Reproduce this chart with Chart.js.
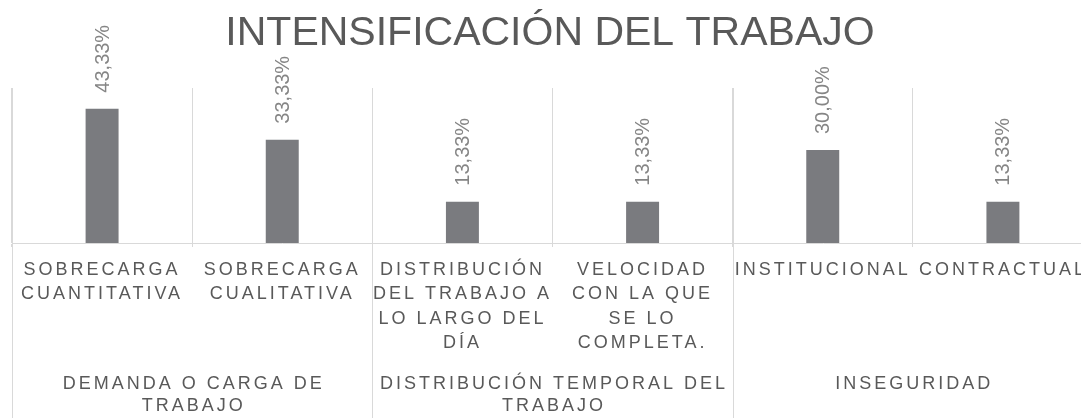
<!DOCTYPE html>
<html>
<head>
<meta charset="utf-8">
<script src="https://cdn.jsdelivr.net/npm/chart.js@4/dist/chart.umd.min.js"></script>
<style>
  html, body { margin: 0; padding: 0; background: #fff; overflow: hidden; }
  #wrap { width: 1081px; height: 418px; overflow: hidden; }
</style>
</head>
<body>
<div id="wrap"><canvas id="intensChart" width="1100" height="418"></canvas></div>
<script>
const chartTitle = 'INTENSIFICACIÓN DEL TRABAJO';
const categories = [
  ['SOBRECARGA', 'CUANTITATIVA'],
  ['SOBRECARGA', 'CUALITATIVA'],
  ['DISTRIBUCIÓN', 'DEL TRABAJO A', 'LO LARGO DEL', 'DÍA'],
  ['VELOCIDAD', 'CON LA QUE', 'SE LO', 'COMPLETA.'],
  ['INSTITUCIONAL'],
  ['CONTRACTUAL']
];
const values = [0.4333, 0.3333, 0.1333, 0.1333, 0.30, 0.1333];
const valueLabels = ['43,33%', '33,33%', '13,33%', '13,33%', '30,00%', '13,33%'];
const groupLabels = [
  ['DEMANDA O CARGA DE', 'TRABAJO'],
  ['DISTRIBUCIÓN TEMPORAL DEL', 'TRABAJO'],
  ['INSEGURIDAD']
];
const groupStarts = [0, 2, 4];
const groupEnds = [1, 3, 5];

const textGray = '#595959';
const lineGray = '#d9d9d9';

// letter spacing for axis texts, group labels, value labels and title
const extras = {
  id: 'extras',
  beforeLayout(chart) { chart.ctx.letterSpacing = '3px'; },
  beforeDraw(chart) { chart.ctx.letterSpacing = '3px'; },
  afterDatasetsDraw(chart) {
    const ctx = chart.ctx;
    const meta = chart.getDatasetMeta(0);
    ctx.save();
    ctx.letterSpacing = '0px';
    ctx.font = '20px "Liberation Sans", Arial, sans-serif';
    ctx.fillStyle = '#858585';
    ctx.textAlign = 'left';
    ctx.textBaseline = 'middle';
    meta.data.forEach((bar, i) => {
      ctx.save();
      ctx.translate(bar.x + 1, bar.y - 16);
      ctx.rotate(-Math.PI / 2);
      ctx.fillText(valueLabels[i], 0, 0);
      ctx.restore();
    });
    ctx.restore();
  },
  afterDraw(chart) {
    const ctx = chart.ctx;
    const x = chart.scales.x;
    const area = chart.chartArea;
    const half = (x.getPixelForValue(1) - x.getPixelForValue(0)) / 2;
    ctx.save();
    // group separators
    ctx.strokeStyle = lineGray;
    ctx.lineWidth = 1;
    const edges = groupStarts.map(s => x.getPixelForValue(s) - half);
    edges.push(x.getPixelForValue(groupEnds[groupEnds.length - 1]) + half);
    edges.forEach(px => {
      const p = Math.round(px) + 0.5;
      ctx.beginPath();
      ctx.moveTo(p, area.top);
      ctx.lineTo(p, chart.height);
      ctx.stroke();
    });
    // group labels
    ctx.letterSpacing = '3px';
    ctx.font = '18px "Liberation Sans", Arial, sans-serif';
    ctx.fillStyle = textGray;
    ctx.textAlign = 'center';
    ctx.textBaseline = 'middle';
    groupLabels.forEach((lines, g) => {
      const cx = (x.getPixelForValue(groupStarts[g]) + x.getPixelForValue(groupEnds[g])) / 2 + 1.5;
      lines.forEach((t, k) => ctx.fillText(t, cx, 384 + k * 22.5));
    });
    // title
    ctx.letterSpacing = '0px';
    ctx.font = '41px "Liberation Sans", Arial, sans-serif';
    ctx.fillText(chartTitle, 550, 34);
    ctx.restore();
  }
};

const ctx = document.getElementById('intensChart');

const intensChart = new Chart(ctx, {
  type: 'bar',
  data: {
    labels: categories,
    datasets: [{
      data: values,
      backgroundColor: '#7a7b7f',
      borderWidth: 0,
      categoryPercentage: 1,
      barPercentage: 0.183
    }]
  },
  options: {
    responsive: false,
    animation: false,
    layout: { padding: { top: 88, left: 12, right: 7, bottom: 0 } },
    plugins: {
      legend: { display: false },
      title: { display: false },
      tooltip: { enabled: false }
    },
    scales: {
      x: {
        afterFit(scale) { scale.height = 175; },
        grid: { offset: true, color: lineGray, lineWidth: 1, drawTicks: true, tickLength: 4 },
        border: { display: true, color: lineGray },
        ticks: {
          autoSkip: false,
          maxRotation: 0,
          minRotation: 0,
          padding: 11,
          color: textGray,
          font: { family: '"Liberation Sans", Arial, sans-serif', size: 18, lineHeight: 1.35 }
        }
      },
      y: {
        display: false,
        min: 0,
        max: 0.5
      }
    }
  },
  plugins: [extras]
});
</script>
</body>
</html>
